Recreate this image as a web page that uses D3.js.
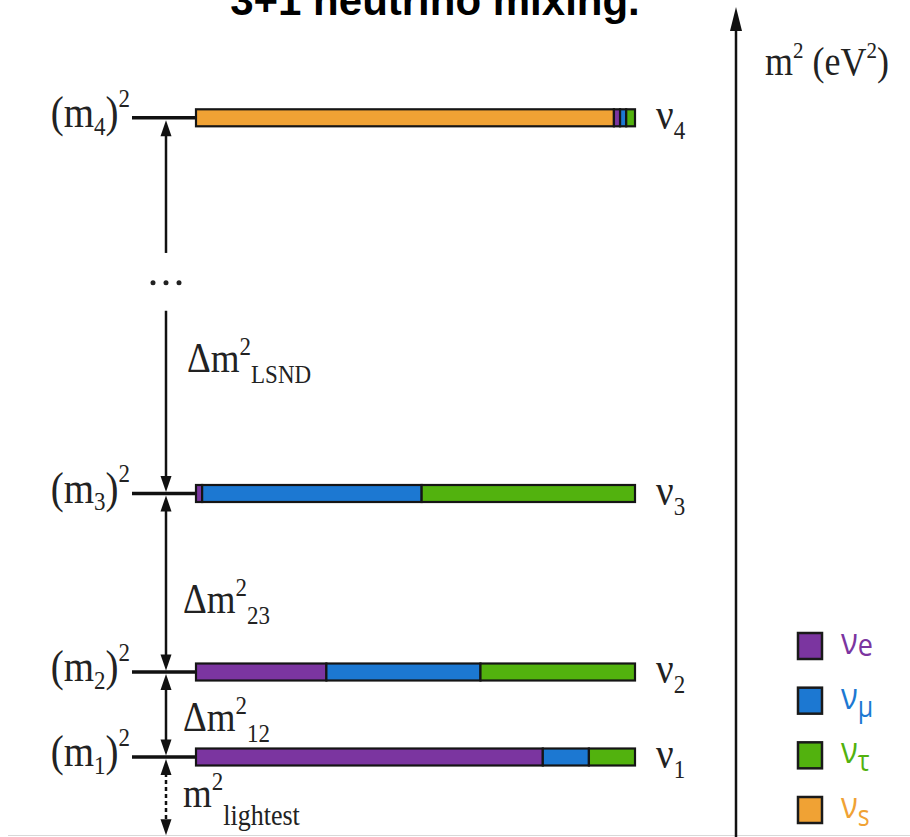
<!DOCTYPE html>
<html><head><meta charset="utf-8">
<script src="https://cdn.jsdelivr.net/npm/d3@7"></script>
<style>
html,body{margin:0;padding:0;background:#fff;}
svg{display:block;}
</style></head>
<body>
<svg id="chart" width="910" height="837"></svg>
<script>
// ---------- data ----------
const title = "3+1 neutrino mixing.";
const states = ["1", "2", "3", "4"];            // mass eigenstates ν1..ν4
const massSq = [0, 1, 3.1, 7.52];               // schematic m² positions
const flavorKeys = ["s", "e", "mu", "tau"];     // stacking order (left→right)
const flavorLabels = { e: "e", mu: "μ", tau: "τ", s: "s" };
const legendOrder = ["e", "mu", "tau", "s"];
const fracS   = [0,     0,     0,     0.952];
const fracE   = [0.79,  0.297, 0.014, 0.014];
const fracMu  = [0.105, 0.351, 0.50,  0.014];
const fracTau = [0.105, 0.352, 0.486, 0.020];
const splitLabels = [
  { main: "Δm", sup: "2", sub: "LSND", at: 4.53 },
  { main: "Δm", sup: "2", sub: "23",   at: 1.70 },
  { main: "Δm", sup: "2", sub: "12",   at: 0.31 },
  { main: "m",  sup: "2", sub: "lightest", at: -0.59 }
];
const axisLabel = { main: "m", sup: "2", rest: " (eV", sup2: "2", end: ")" };
// gap in the arrow between ν3 and ν4 (schematic units)
const gapTop = 5.93, gapDots = 5.58, gapBottom = 5.25, lightestBottom = -0.92;

const colors = { e: "#7b35a0", mu: "#1c78d2", tau: "#52b20e", s: "#f0a234" };

// ---------- setup ----------
const svg = d3.select("#chart");
const W = 910, H = 837;
const y = d3.scaleLinear().domain([0, 1]).range([757, 672]);
const x = d3.scaleLinear().domain([0, 1]).range([196, 635]);
const serif = "'Liberation Serif','Times New Roman',serif";
const SY = 1.12; // vertical stretch of the original raster

const rows = states.map((s, i) => ({ state: s, m: massSq[i], s: fracS[i], e: fracE[i], mu: fracMu[i], tau: fracTau[i] }));
const stacked = d3.stack().keys(flavorKeys)(rows);

// title
svg.append("text").attr("x", 435).attr("y", 15)
  .attr("text-anchor", "middle")
  .attr("font-family", "'Liberation Sans',Arial,sans-serif")
  .attr("font-weight", "bold").attr("font-size", 42)
  .text(title);

// bottom faint rule
svg.append("line").attr("x1", 8).attr("x2", W).attr("y1", 835.5).attr("y2", 835.5)
  .attr("stroke", "#d8d8d8").attr("stroke-width", 1);

// level ticks
svg.append("g").selectAll("line").data(rows).join("line")
  .attr("x1", 132).attr("x2", x(0))
  .attr("y1", d => y(d.m)).attr("y2", d => y(d.m))
  .attr("stroke", "#111").attr("stroke-width", 3.5);

// bars
const barH = 17;
svg.append("g").selectAll("g").data(stacked).join("g")
  .attr("fill", d => colors[d.key])
  .selectAll("rect").data(d => d.filter(p => p[1] - p[0] > 0)).join("rect")
  .attr("x", p => x(p[0])).attr("width", p => x(p[1]) - x(p[0]))
  .attr("y", p => y(p.data.m) - barH / 2).attr("height", barH)
  .attr("stroke", "#151515").attr("stroke-width", 2.2);

// helper for stretched text
function stretchedText(px, py, build) {
  const g = svg.append("g").attr("transform", `translate(${px},${py}) scale(1,${SY})`);
  const t = g.append("text").attr("font-family", serif).attr("fill", "#222");
  build(t);
  return t;
}

// left labels (m_i)^2
rows.forEach(r => {
  stretchedText(130, y(r.m) + 9, t => {
    t.attr("text-anchor", "end").attr("font-size", 39);
    t.append("tspan").text("(m");
    t.append("tspan").attr("font-size", 23).attr("dy", 7).text(r.state);
    t.append("tspan").attr("dy", -7).text(")");
    t.append("tspan").attr("font-size", 23).attr("dy", -18).text("2");
  });
});

// right labels ν_i
rows.forEach(r => {
  stretchedText(656, y(r.m) + 11, t => {
    t.attr("font-size", 39);
    t.append("tspan").text("ν");
    t.append("tspan").attr("font-size", 23).attr("dy", 9).text(r.state);
  });
});

// arrows
const ax = 166;
function head(tipY, dir) { // dir: -1 up, +1 down
  const w = 5.5, h = 16;
  svg.append("path")
    .attr("d", `M${ax},${tipY} L${ax - w},${tipY - dir * h} L${ax + w},${tipY - dir * h} Z`)
    .attr("fill", "#111");
}
function vline(y1, y2, dashed) {
  svg.append("line").attr("x1", ax).attr("x2", ax).attr("y1", y1).attr("y2", y2)
    .attr("stroke", "#111").attr("stroke-width", 2.5)
    .attr("stroke-dasharray", dashed ? "4,3" : null);
}
const m1 = y(massSq[0]), m2 = y(massSq[1]), m3 = y(massSq[2]), m4 = y(massSq[3]);
// up to ν4
vline(y(gapTop), m4 + 10); head(m4 + 2.5, -1);
// dots
svg.append("g").selectAll("circle").data([-13, 0, 13]).join("circle")
  .attr("cx", d => ax + d).attr("cy", y(gapDots)).attr("r", 2.5).attr("fill", "#222");
// down to ν3
vline(y(gapBottom), m3 - 10); head(m3 - 1.5, 1);
// ν3 <-> ν2
vline(m3 + 10, m2 - 10); head(m3 + 2, -1); head(m2 - 1.5, 1);
// ν2 <-> ν1
vline(m2 + 10, m1 - 10); head(m2 + 2, -1); head(m1 - 1.5, 1);
// ν1 <-> lightest (dashed)
vline(m1 + 16, y(lightestBottom) - 12, true); head(m1 + 2, -1); head(y(lightestBottom), 1);

// splitting labels
splitLabels.forEach(l => {
  const isLight = l.main === "m";
  stretchedText(isLight ? 183 : (l.sub === "LSND" ? 187 : 183), y(l.at), t => {
    t.attr("font-size", 37);
    t.append("tspan").text(l.main);
    t.append("tspan").attr("font-size", 23).attr("dy", -15).text(l.sup);
    t.append("tspan").attr("font-size", isLight ? 26 : 23).attr("dy", isLight ? 31 : 25).text(l.sub);
  });
});

// right-hand m² axis
svg.append("line").attr("x1", 736).attr("x2", 736).attr("y1", 26).attr("y2", H)
  .attr("stroke", "#111").attr("stroke-width", 2.5);
svg.append("path").attr("d", "M736,7 L730,31 L742,31 Z").attr("fill", "#111");
stretchedText(765, 75, t => {
  t.attr("font-size", 36);
  t.append("tspan").text(axisLabel.main);
  t.append("tspan").attr("font-size", 21).attr("dy", -15).text(axisLabel.sup);
  t.append("tspan").attr("dy", 15).text(axisLabel.rest);
  t.append("tspan").attr("font-size", 21).attr("dy", -15).text(axisLabel.sup2);
  t.append("tspan").attr("dy", 15).text(axisLabel.end);
});

// legend
const leg = svg.append("g");
const legY = d3.scalePoint().domain(legendOrder).range([646, 810]);
legendOrder.forEach(k => {
  leg.append("rect").attr("x", 798).attr("y", legY(k) - 13).attr("width", 24).attr("height", 26)
    .attr("fill", colors[k]).attr("stroke", "#1a1a1a").attr("stroke-width", 2.5);
  const g = leg.append("g").attr("transform", `translate(841,${legY(k) + 8}) scale(1,1.15)`);
  const t = g.append("text").attr("font-family", "'Open Sans','Liberation Sans',sans-serif")
    .attr("fill", colors[k]).attr("font-size", 31);
  t.append("tspan").text("ν");
  t.append("tspan").attr("font-size", k === "e" ? 27 : 25).attr("dy", k === "e" ? 2 : 7).text(flavorLabels[k]);
});
</script>
</body></html>
